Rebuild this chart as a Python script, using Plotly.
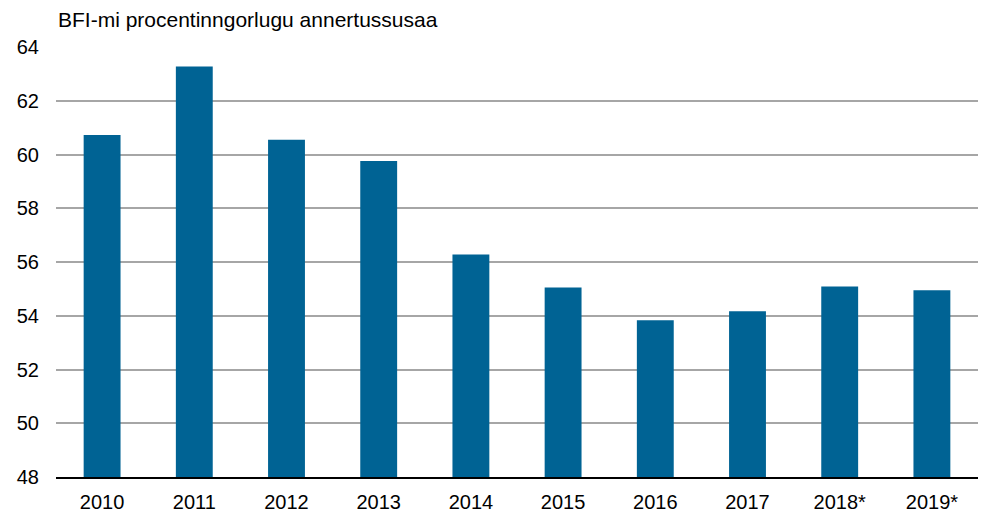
import plotly.graph_objects as go

years = ["2010", "2011", "2012", "2013", "2014", "2015", "2016", "2017", "2018*", "2019*"]
values = [60.73, 63.27, 60.55, 59.76, 56.28, 55.05, 53.83, 54.17, 55.09, 54.95]
y_ticks = [48, 50, 52, 54, 56, 58, 60, 62, 64]
title_text = "BFI-mi procentinngorlugu annertussusaa"

FONT = "Arial, Liberation Sans, sans-serif"

fig = go.Figure(
    go.Bar(
        x=years,
        y=values,
        marker=dict(color="#006394", line=dict(width=0)),
        width=0.4,
    )
)

fig.update_layout(
    width=984,
    height=513,
    margin=dict(l=56, r=6, t=47, b=36),
    plot_bgcolor="white",
    paper_bgcolor="white",
    showlegend=False,
    font=dict(family=FONT, size=20, color="#000000"),
    annotations=[
        dict(
            text=title_text,
            xref="paper", yref="paper",
            x=0, y=1,
            xanchor="left", yanchor="bottom",
            yshift=14,
            showarrow=False,
            font=dict(family=FONT, size=21, color="#000000"),
        )
    ],
)

fig.update_xaxes(
    type="category",
    automargin=False,
    showgrid=False,
    showline=True,
    linecolor="#000000",
    linewidth=2,
    ticks="",
    ticklabelstandoff=6,
    tickfont=dict(family=FONT, size=20),
)

fig.update_yaxes(
    range=[48, 64],
    automargin=False,
    tickvals=y_ticks,
    showgrid=True,
    gridcolor="#a6a6a6",
    gridwidth=1.5,
    zeroline=False,
    showline=False,
    ticks="",
    ticklabelstandoff=16,
    tickfont=dict(family=FONT, size=20),
)

fig.write_html(
    "out.html",
    config={"displayModeBar": False},
    post_script="document.body.style.margin='0';document.body.style.padding='0';",
)
